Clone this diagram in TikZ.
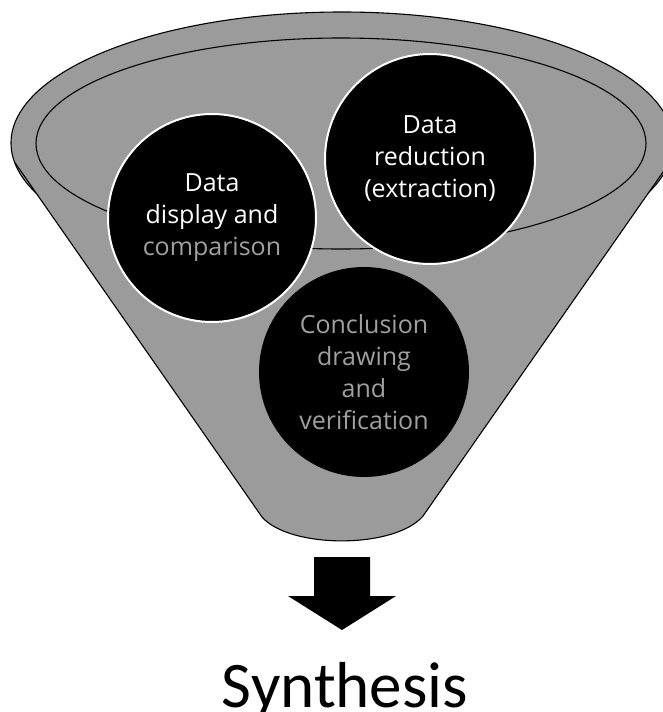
\documentclass[tikz,border=0pt]{standalone}
\usepackage{fontspec}
\setmainfont{Carlito}
\newfontfamily\stagefont{Open Sans}
\usepackage{tikz}
\usetikzlibrary{arrows}

\definecolor{funnel}{RGB}{155,155,155}
\definecolor{dimtext}{RGB}{160,160,160}

\begin{document}
\begin{tikzpicture}[x=1pt,y=-1pt,line join=round]
  \tikzstyle{stage}=[circle,fill=black,text=white,align=center,inner sep=0pt,
                     font=\stagefont\fontsize{25}{32}\selectfont]
  \tikzstyle{rim}=[draw=white,line width=2pt]
  \tikzstyle{outline}=[draw=black,line width=1.1pt]

  \useasboundingbox (0,0) rectangle (663,712);
  \clip (0,0) rectangle (663,712);

  % funnel mouth and body
  \filldraw[fill=funnel,outline] (342,143) ellipse [x radius=331, y radius=131];
  \fill[funnel] (14.5,162) -- (262,517) .. controls (290,549) and (395,549) .. (423,516)
     -- (670,162) -- cycle;
  \draw[outline] (14.5,162) -- (262,517) .. controls (290,549) and (395,549) .. (423,516)
     -- (670,162);
  \draw[outline] (341,143.5) ellipse [x radius=305, y radius=105.5];

  \node[stage,rim,minimum size=208pt] (display) at (212,218)
    {Data\\display and\\\textcolor{dimtext}{comparison}};
  \node[stage,rim,minimum size=210pt] (reduction) at (430,159)
    {Data\\reduction\\(extraction)};
  \node[stage,text=dimtext,minimum size=210pt] (conclusion) at (364,372)
    {Conclusion\\drawing\\and\\verification};

  \node[font=\fontsize{65}{70}\selectfont,anchor=base] (synthesis) at (345,707) {Synthesis};

  % block arrow down to the result
  \fill (314,557) -- (370,557) -- (370,596) -- (396,596) -- (342,630)
     -- (288,596) -- (314,596) -- cycle;
\end{tikzpicture}
\end{document}
